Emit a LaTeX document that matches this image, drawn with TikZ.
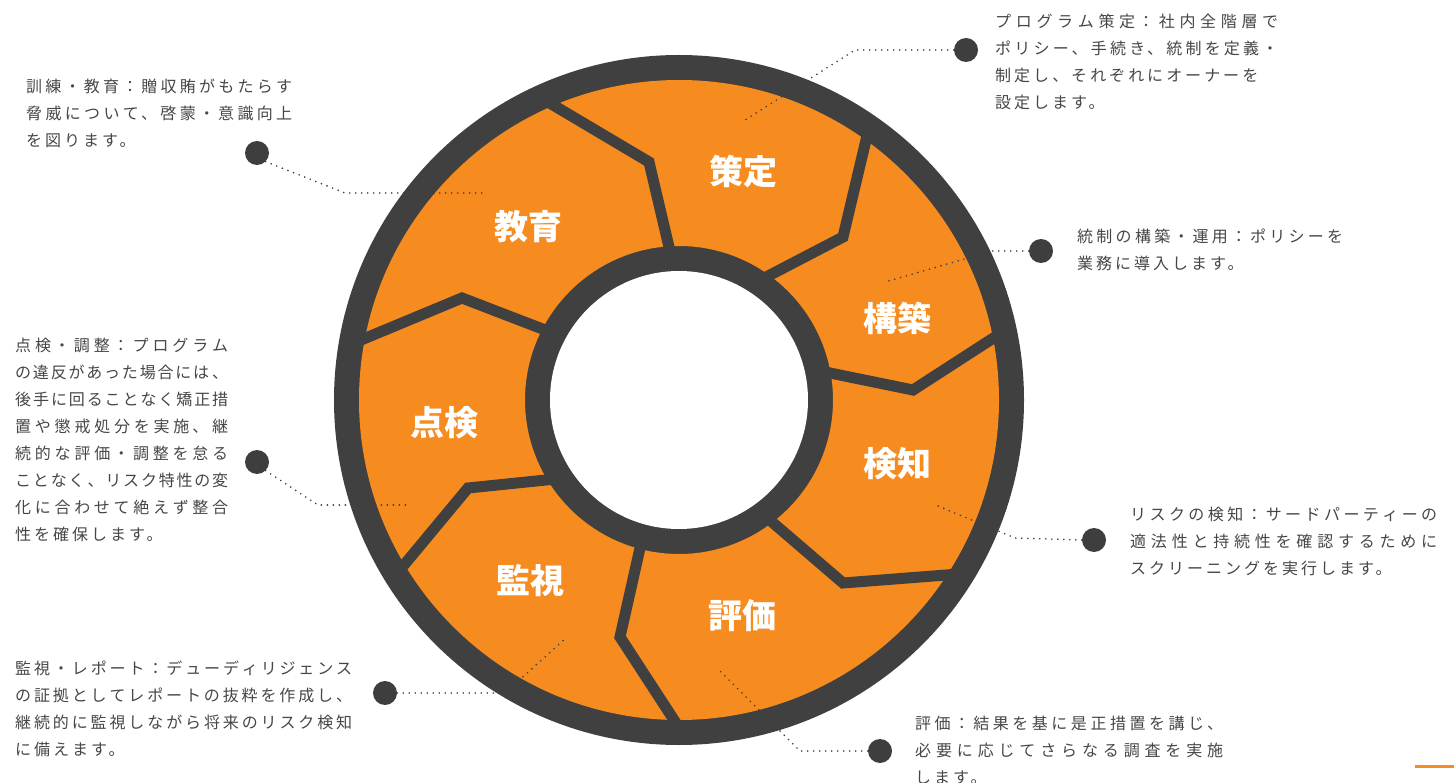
\documentclass[tikz,border=0pt]{standalone}
\usepackage{fontspec}
\newfontfamily\jp{Noto Sans CJK JP}
\newfontfamily\jpdesc[LetterSpace=19]{Noto Sans CJK JP}
\XeTeXlinebreaklocale "ja"
\XeTeXlinebreakskip=3pt plus 6pt minus 1.5pt
\XeTeXlinebreakpenalty=10000
\definecolor{ringdark}{RGB}{64,64,64}
\definecolor{orng}{RGB}{246,139,31}
\definecolor{txt}{RGB}{70,70,70}
\definecolor{dotc}{RGB}{62,62,62}
\tikzset{
  sepline/.style={ringdark, line width=11pt, line join=miter, shorten <=-8pt, shorten >=-10pt},
  seglabel/.style={text=white, font=\jp\bfseries\fontsize{34}{34}\selectfont, inner sep=0pt},
  desc/.style={text=txt, font=\jpdesc\fontsize{16}{27}\selectfont, align=justify, anchor=north west, inner sep=0pt},
  bullet/.style={circle, fill=dotc, minimum size=24pt, inner sep=0pt},
  leader/.style={dotc, line width=1.8pt, dash pattern=on 0pt off 6pt, line cap=round},
}
\begin{document}
\begin{tikzpicture}[x=1pt,y=-1pt]
\useasboundingbox (0,0) rectangle (1454,783);
\coordinate (c) at (679,400);
% ring
\fill[ringdark] (c) circle[radius=345pt];
\fill[orng, even odd rule] (c) circle[radius=320pt] (c) circle[radius=154pt];
\fill[white] (c) circle[radius=129pt];
% separators
\draw[sepline] (669,247) -- (649,162) -- (553,105);
\draw[sepline] (770,275) -- (843,237) -- (866,140);
\draw[sepline] (830,373) -- (913,390) -- (995,337);
\draw[sepline] (772,522) -- (843,583) -- (946,575);
\draw[sepline] (640,548) -- (620,637) -- (674,720);
\draw[sepline] (546,480) -- (468,488) -- (404,565);
\draw[sepline] (540,328) -- (462,298) -- (361,340);
% segment labels
\node[seglabel] (lsakutei) at (743,172) {策定};
\node[seglabel] (lkyouiku) at (528,227) {教育};
\node[seglabel] (lkouchiku) at (897,318) {構築};
\node[seglabel] (ltenken) at (444,423) {点検};
\node[seglabel] (lkenchi) at (897,464) {検知};
\node[seglabel] (lkanshi) at (530,581) {監視};
\node[seglabel] (lhyouka) at (742,616) {評価};
% bullets
\node[bullet] (d1) at (966,50) {};
\node[bullet] (d2) at (257,153) {};
\node[bullet] (d3) at (1041,251) {};
\node[bullet] (d4) at (257,462) {};
\node[bullet] (d5) at (1094,540) {};
\node[bullet] (d6) at (385,693) {};
\node[bullet] (d7) at (880,751) {};
% leader bends and ends
\coordinate (k1) at (855,50);   \coordinate (e1) at (742,122);
\coordinate (k2) at (345,193);  \coordinate (e2) at (484,193);
\coordinate (k3) at (992,251);  \coordinate (e3) at (885,282);
\coordinate (k4) at (318,505);  \coordinate (e4) at (410,505);
\coordinate (k5) at (1015,538); \coordinate (e5) at (938,506);
\coordinate (k6) at (505,693);  \coordinate (e6) at (567,637);
\coordinate (k7) at (800,751);  \coordinate (e7) at (720,671);
\draw[leader] (d1.west) -- (k1) -- (e1);
\draw[leader] (d2.south east) -- (k2) -- (e2);
\draw[leader] (d3.west) -- (k3) -- (e3);
\draw[leader] (d4.south east) -- (k4) -- (e4);
\draw[leader] (d5.west) -- (k5) -- (e5);
\draw[leader] (d6.east) -- (k6) -- (e6);
\draw[leader] (d7.west) -- (k7) -- (e7);
% descriptions
\node[desc, text width=283pt] (t1) at (995,14) {プログラム策定：社内全階層で\linebreak ポリシー、手続き、統制を定義・\linebreak 制定し、それぞれにオーナーを\newline 設定します。};
\node[desc, text width=266pt] (t2) at (26,79) {訓練・教育：贈収賄がもたらす\linebreak 脅威について、啓蒙・意識向上\linebreak を図ります。};
\node[desc, text width=266pt] (t3) at (1077,229) {統制の構築・運用：ポリシーを\linebreak 業務に導入します。};
\node[desc, text width=213pt] (t4) at (15,338) {点検・調整：プログラム\linebreak の違反があった場合には、\linebreak 後手に回ることなく矯正措\linebreak 置や懲戒処分を実施、継\linebreak 続的な評価・調整を怠る\linebreak ことなく、リスク特性の変\linebreak 化に合わせて絶えず整合\linebreak 性を確保します。};
\node[desc, text width=307pt] (t5) at (1130,507) {リスクの検知：サードパーティーの\linebreak 適法性と持続性を確認するために\linebreak スクリーニングを実行します。};
\node[desc, text width=337pt] (t6) at (15,661) {監視・レポート：デューディリジェンス\linebreak の証拠としてレポートの抜粋を作成し、\linebreak 継続的に監視しながら将来のリスク検知\linebreak に備えます。};
\node[desc, text width=308pt] (t7) at (915,716) {評価：結果を基に是正措置を講じ、\linebreak 必要に応じてさらなる調査を実施\linebreak します。};
% corner mark
\draw[orng, line width=3pt] (1415,766) -- (1454,766);
\end{tikzpicture}
\end{document}
